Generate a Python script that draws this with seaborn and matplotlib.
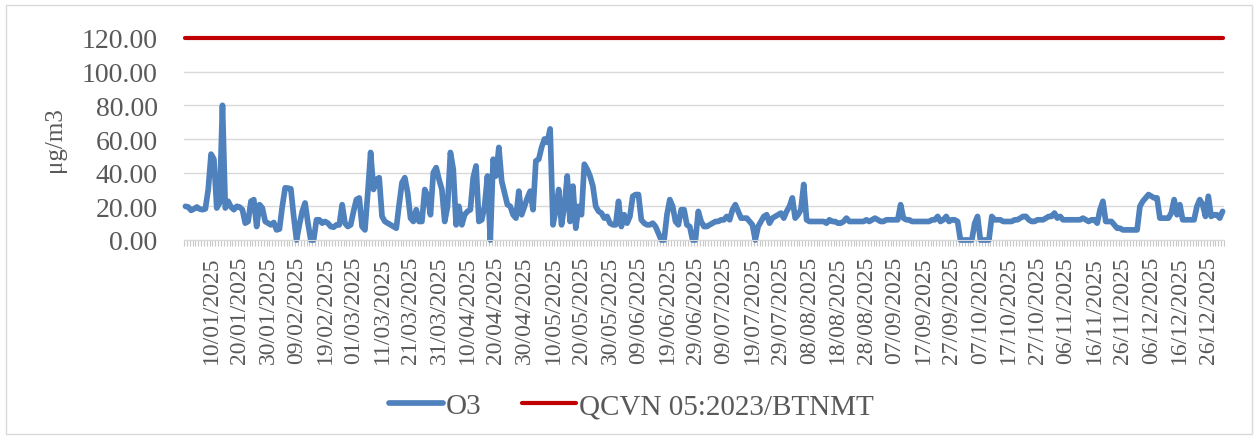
import matplotlib
matplotlib.use('Agg')
import matplotlib.pyplot as plt
import numpy as np
import pandas as pd
import seaborn as sns
from matplotlib.patches import Rectangle

sns.set_style('white')
plt.rcParams['font.family'] = ['Liberation Serif', 'DejaVu Serif']

# daily O3 (ug/m3)
o3_jan = [20, 19.6, 17.6, 18.5, 19.6, 18.4, 18, 18.5, 30, 51, 48, 19, 22, 80, 19, 23,
          19.6, 18, 20, 19.6, 18, 10, 11, 23, 24, 8, 21, 19, 11, 10, 9]
o3_feb = [10.4, 6, 6.5, 20, 31, 30.8, 30.4, 14, 0, 9, 17, 22, 10, 0, 0, 12, 12, 10,
          11, 10, 8, 7.6, 9, 9, 21, 10, 8, 9]
o3_mar = [17, 24, 25, 8, 6, 28, 52, 30, 36, 37, 14, 11, 10, 9, 8, 7, 21, 34, 37, 28,
          13, 11, 18, 11, 11, 30, 26, 15, 40, 43, 36]
o3_apr = [30, 11, 20, 52, 42, 9, 20, 9, 15, 17, 18, 37, 44, 11, 12, 20, 38, 0, 48, 38,
          55, 35, 28, 21, 20, 15, 13, 29, 15, 20]
o3_may = [25, 29, 18, 47, 48, 55, 60, 58, 66, 9, 18, 30, 9, 20, 38, 11, 32, 7, 20, 15,
          45, 42, 38, 32, 20, 17, 16, 13, 14, 10, 9]
o3_jun = [9, 23, 8, 15, 10, 14, 26, 27, 27, 12, 10, 9, 9, 10, 8, 4, 0, 0, 15, 24, 20,
          11, 9, 18, 18, 9, 8, 0, 0, 17]
o3_jul = [11, 8, 8, 9, 10, 11, 11, 12, 12, 14, 12, 18, 21, 17, 13, 13, 13, 11, 9, 0,
          8, 11, 14, 15, 10, 13, 14, 15, 16, 13, 17]
o3_aug = [20, 25, 13, 15, 18, 33, 12, 11, 11, 11, 11, 11, 11, 10, 12, 11, 11, 10, 10,
          11, 13, 11, 11, 11, 11, 11, 11, 12, 11, 12, 13]
o3_sep = [12, 11, 11, 12, 12, 12, 12, 12, 21, 13, 12, 12, 11, 11, 11, 11, 11, 11, 11,
          12, 12, 14, 11, 12, 14, 11, 12, 12, 11, 0]
o3_oct = [0, 0, 0, 0, 10, 14, 0, 0, 0, 0, 14, 12, 12, 12, 11, 11, 11, 11, 12, 12, 13,
          14, 14, 12, 11, 11, 12, 12, 12, 13, 14]
o3_nov = [14, 16, 13, 14, 12, 12, 12, 12, 12, 12, 12, 13, 12, 11, 12, 12, 10, 18, 23,
          11, 11, 11, 9, 7, 7, 6, 6, 6, 6, 6]
o3_dec = [6, 20, 23, 25, 27, 26, 25, 25, 13, 13, 13, 13, 16, 24, 15, 21, 12, 12, 12, 12,
          12, 20, 24, 21, 14, 26, 14, 15, 15, 13, 17]

qcvn_limit = 120.0

o3 = o3_jan + o3_feb + o3_mar + o3_apr + o3_may + o3_jun + o3_jul + o3_aug + o3_sep + o3_oct + o3_nov + o3_dec
dates = pd.date_range('2025-01-01', '2025-12-31', freq='D')

df = pd.DataFrame({'day': np.arange(len(dates)), 'O3': o3,
                   'QCVN 05:2023/BTNMT': [qcvn_limit] * len(dates)})
long = df.melt(id_vars='day', var_name='series', value_name='value')

palette = {'O3': '#4F81BD', 'QCVN 05:2023/BTNMT': '#C00000'}
fig = plt.figure(figsize=(12.59, 4.39), dpi=100)
ax = fig.add_axes([184 / 1259, 1 - 241 / 439, 1040 / 1259, 202 / 439])
sns.lineplot(data=long, x='day', y='value', hue='series', palette=palette,
             errorbar=None, legend=False, ax=ax)
for line, lw in zip(ax.lines, [4.1, 3.0]):
    line.set_linewidth(lw)
    line.set_solid_joinstyle('round')
    line.set_solid_capstyle('round')
    line.set_clip_on(False)

ax.set_xlim(-0.5, len(dates) - 0.5)
ax.set_ylim(0, 120)
ax.set_xlabel('')
ax.set_ylabel('')

yt = list(range(0, 121, 20))
ax.set_yticks(yt)
ax.set_yticklabels(['{:.2f}'.format(v) for v in yt])
ax.tick_params(axis='y', length=0, pad=19, labelsize=20, labelcolor='#595959')

label_days = np.arange(9, len(dates), 10)
ax.set_xticks(label_days)
ax.set_xticklabels([dates[d].strftime('%d/%m/%Y') for d in label_days], rotation=90)
ax.set_xticks(np.arange(-0.5, len(dates), 1), minor=True)
ax.tick_params(axis='x', which='major', length=0, pad=11.5, labelsize=17, labelcolor='#595959')
ax.tick_params(axis='x', which='minor', bottom=True, length=4.3, width=0.8,
               color='#C8C8C8', direction='out')

ax.yaxis.grid(True, color='#D9D9D9', lw=1)
ax.xaxis.grid(False)
for s in ['left', 'right', 'top']:
    ax.spines[s].set_visible(False)
ax.spines['bottom'].set_color('#D9D9D9')
ax.set_axisbelow(True)

fig.text(55 / 1259, 1 - 140 / 439, 'μg/m3', rotation=90, ha='center', va='center',
         fontsize=18, color='#595959')

leg = fig.legend(handles=ax.lines[:2], labels=['O3', 'QCVN 05:2023/BTNMT'], loc='center',
                 bbox_to_anchor=(0.5016, 0.073), ncol=2, frameon=False, fontsize=21,
                 handlelength=1.85, handletextpad=0.1, columnspacing=1.4, labelcolor='#595959')
for h in leg.get_lines():
    h.set_solid_capstyle('round')

fig.add_artist(Rectangle((6 / 1259, 4 / 439), 1246 / 1259, 429 / 439, transform=fig.transFigure,
                         fill=False, edgecolor='#D9D9D9', lw=1))

fig.savefig('out.png', dpi=100)
